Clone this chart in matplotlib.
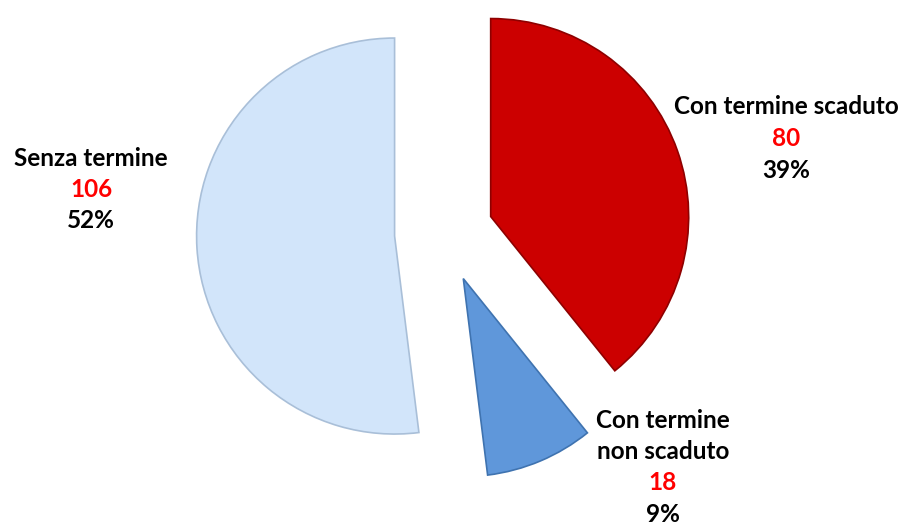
import matplotlib
matplotlib.use("Agg")
import matplotlib.pyplot as plt

categories = ["Con termine scaduto", "Con termine\nnon scaduto", "Senza termine"]
values = [80, 18, 106]
colors = ["#CC0000", "#5F97DA", "#D2E5FA"]
edges = ["#8E0000", "#3F73B0", "#A9BFD8"]

W, H = 909, 527
fig = plt.figure(figsize=(W / 100, H / 100), dpi=100)
ax = fig.add_axes([0, 0, 1, 1])

center = (444, H - 233)
wedges, _ = ax.pie(values, colors=colors, startangle=90, counterclock=False,
                   explode=[49.5] * len(values), radius=198, center=center,
                   wedgeprops=dict(linewidth=1.2))
for w, ec in zip(wedges, edges):
    w.set_edgecolor(ec)

ax.set_xlim(0, W)
ax.set_ylim(0, H)
ax.set_aspect("equal")
ax.axis("off")

total = sum(values)
label_pos = [(786, 107), (663, 420), (91, 158)]
line_h = 31.5
font = dict(family=["Lato", "DejaVu Sans"], fontweight="bold", fontsize=17.5)
for cat, v, (x, y) in zip(categories, values, label_pos):
    lines = cat.split("\n")
    yy = y
    for ln in lines:
        ax.text(x, H - yy, ln, ha="center", va="center", color="black", **font)
        yy += line_h
    ax.text(x, H - yy, str(v), ha="center", va="center", color="#FF0000", **font)
    yy += line_h
    ax.text(x, H - yy, f"{round(100 * v / total)}%", ha="center", va="center",
            color="black", **font)

fig.savefig("out.png", dpi=100, facecolor="white")
